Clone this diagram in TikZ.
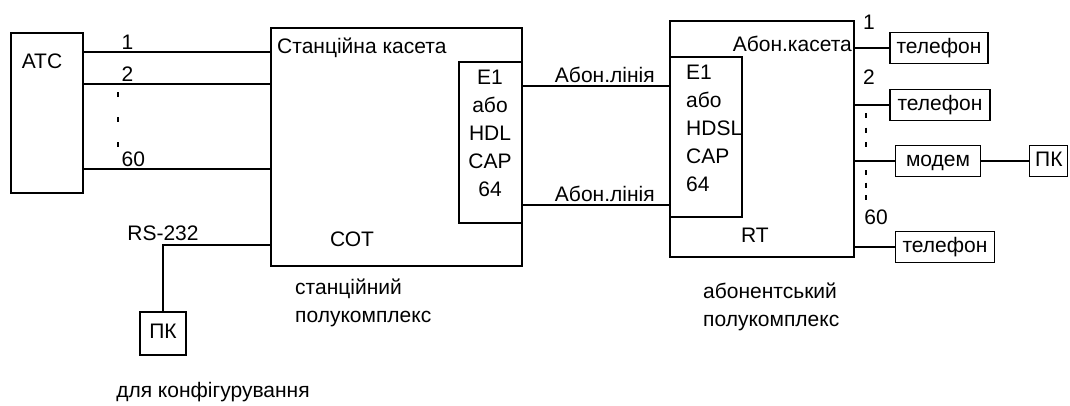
\documentclass[tikz,border=0pt]{standalone}
\usepackage{fontspec}
\setmainfont{Liberation Sans}
\usetikzlibrary{positioning}

\begin{document}
\begin{tikzpicture}[
	x=1pt, y=-1pt,
	block/.style={rectangle, draw=black, line width=1.3pt, inner sep=0pt},
	device/.style={block, minimum height=31pt, text height=15pt, text depth=4.5pt, font=\fontsize{21}{24}\selectfont},
	lbl/.style={inner sep=0pt, font=\fontsize{21}{24}\selectfont},
	stack/.style={inner sep=0pt, font=\fontsize{21}{28}\selectfont},
	wire/.style={line width=1.3pt},
	dots/.style={line width=1.3pt, dash pattern=on 5pt off 20pt}
	]
	\useasboundingbox (0,0) rectangle (1070,405);

	% АТС
	\node (atc) [block, minimum width=72pt, minimum height=160pt] at (47,113) {};
	\node [lbl] at (42,61) {АТС};

	% станційний полукомплекс
	\node (cot) [block, minimum width=251pt, minimum height=238pt] at (396.5,147) {};
	\node (cotcard) [block, minimum width=63pt, minimum height=161pt] at (490.5,142.5) {};
	\node [lbl, anchor=west] at (277,48) {Станційна касета};
	\node [stack, align=center] at (490,133.5) {E1\\або\\HDL\\CAP\\64};
	\node [lbl] at (352,239) {СОТ};
	\node [stack, align=left, anchor=west] at (295,302.5) {станційний\\полукомплекс};

	% абонентський полукомплекс
	\node (rt) [block, minimum width=184pt, minimum height=236pt] at (762,139) {};
	\node (rtcard) [block, minimum width=72pt, minimum height=160pt] at (706,137) {};
	\node [lbl, anchor=east] at (852,44) {Абон.касета};
	\node [stack, align=left, anchor=west] at (686,128) {E1\\або\\HDSL\\CAP\\64};
	\node [lbl] at (755,235) {RT};
	\node [stack, align=left, anchor=west] at (703,307) {абонентський\\полукомплекс};

	% кінцеве обладнання
	\node (tel1) [device, minimum width=98pt] at (939,48) {телефон};
	\node (tel2) [device, minimum width=100pt] at (940,105) {телефон};
	\node (modem) [device, minimum width=85pt] at (938,161) {модем};
	\node (pc) [device, minimum width=38pt, right=48pt of modem] {ПК};
	\node (tel60) [device, minimum width=99pt] at (945,247) {телефон};

	% ПК для конфігурування
	\node (pccfg) [device, minimum width=46pt, minimum height=43pt] at (163,333.5) {ПК};
	\node [lbl] at (213,392) {для конфігурування};

	% канали АТС
	\foreach \y/\n in {52/1, 84/2, 169/60}
		\draw [wire] (atc.east |- 0,\y) -- node[lbl, anchor=south west, inner ysep=2pt, pos=0.2] {\n} (cot.west |- 0,\y);
	\draw [dots] (118,92) -- (118,147);

	% абонентські лінії
	\draw [wire] (cotcard.east |- 0,86) -- node[lbl, above, inner ysep=3pt, pos=0.56] {Абон.лінія} (rtcard.west |- 0,86);
	\draw [wire] (cotcard.east |- 0,205) -- node[lbl, above, inner ysep=3pt, pos=0.56] {Абон.лінія} (rtcard.west |- 0,205);

	% абонентські канали
	\draw [wire] (rt.east |- tel1) -- (tel1);
	\draw [wire] (rt.east |- tel2) -- (tel2);
	\draw [wire] (rt.east |- modem) -- (modem);
	\draw [wire] (rt.east |- tel60) -- (tel60);
	\draw [wire] (modem) -- (pc);
	\node [lbl] at (869,22) {1};
	\node [lbl] at (869,77) {2};
	\node [lbl] at (876,217) {60};
	\draw [dots, dash pattern=on 5pt off 9.5pt] (866,113) -- (866,147);
	\draw [dots, dash pattern=on 5pt off 7.5pt] (866,170) -- (866,200);

	% RS-232
	\draw [wire] (cot.west |- 0,245) -| node[lbl, above, inner ysep=4pt] {RS-232} (pccfg);
\end{tikzpicture}
\end{document}
